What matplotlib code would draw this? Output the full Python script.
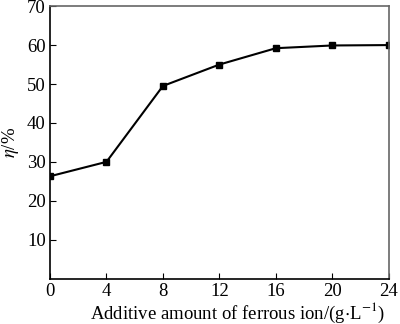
import matplotlib.pyplot as plt

plt.rcParams['font.family'] = ['Liberation Serif', 'DejaVu Serif']
plt.rcParams['mathtext.fontset'] = 'stix'

amount = [0, 4, 8, 12, 16, 20, 24]
eta = [26.3, 30.0, 49.5, 55.0, 59.2, 59.9, 60.0]
err = [0.4, 0.6, 0.4, 0.4, 0.4, 0.4, 0.4]

fig = plt.figure(figsize=(4, 3.24), dpi=100)
ax = fig.add_axes([0.125, 0.14, 0.847, 0.841])

ax.errorbar(amount, eta, yerr=err, color='black', marker='s', markersize=5,
            linewidth=1.5, capsize=2, elinewidth=1)

ax.set_xlim(0, 24)
ax.set_ylim(0, 70)
ax.set_xticks([0, 4, 8, 12, 16, 20, 24])
ax.set_yticks([10, 20, 30, 40, 50, 60, 70])
ax.tick_params(direction='in', length=4, labelsize=13.5, pad=3)

for s in ['top', 'right']:
    ax.spines[s].set_color('#666666')
for s in ax.spines.values():
    s.set_linewidth(1.2)

ax.set_xlabel(r'Additive amount of ferrous ion/(g$\cdot$L$^{-1}$)', fontsize=13.5)
ax.xaxis.set_label_coords(0.553, -0.08)
ax.set_ylabel(r'$\eta$/%', fontsize=13.5)
ax.yaxis.set_label_coords(-0.085, 0.5)

fig.savefig('out.png', dpi=100)
